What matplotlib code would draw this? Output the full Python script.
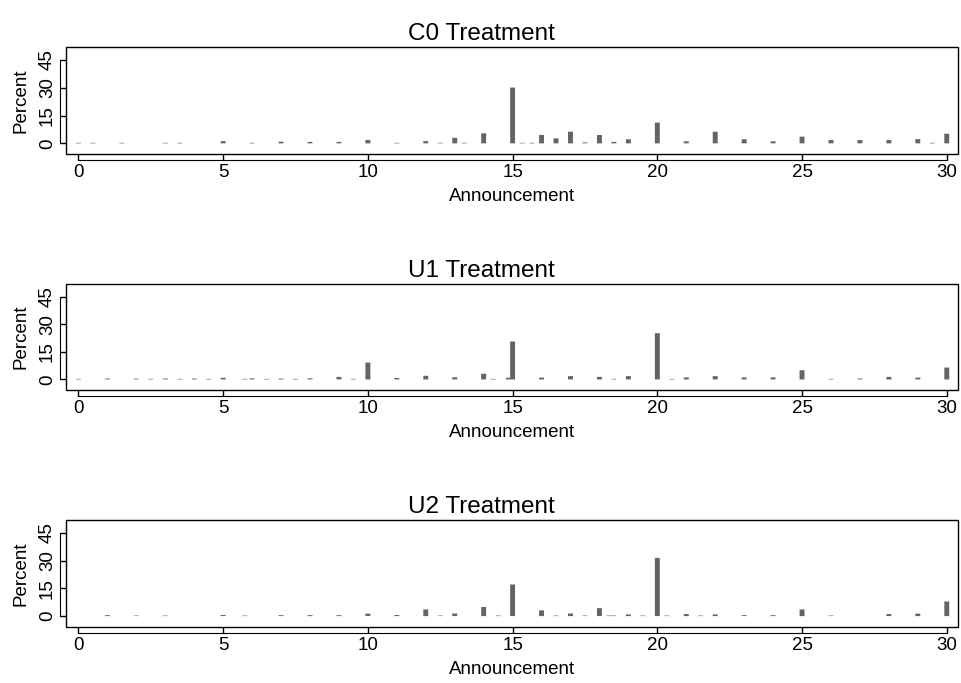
import matplotlib
matplotlib.use("Agg")
import matplotlib.pyplot as plt
from matplotlib.patches import Rectangle

plt.rcParams['font.family'] = ['Liberation Sans', 'DejaVu Sans']

# Announcement values and percent of choices
c0_x = [0, 0.5, 1.5, 3, 3.5, 5, 6, 7, 8, 9, 10, 11, 12, 12.5, 13, 13.33, 14,
        15, 15.33, 15.67, 16, 16.5, 17, 17.5, 18, 18.5, 19, 20, 21, 22, 23,
        24, 25, 26, 27, 28, 29, 29.5, 30]
c0_pct = [0.3, 0.3, 0.3, 0.3, 0.3, 1.2, 0.3, 0.9, 0.8, 0.8, 1.8, 0.3, 1.2,
          0.3, 3.0, 0.3, 5.4, 30.1, 0.3, 0.3, 4.5, 2.7, 6.3, 0.5, 4.5, 0.8,
          2.2, 11.2, 1.1, 6.3, 2.2, 1.1, 3.6, 1.8, 1.8, 1.8, 2.3, 0.3, 5.2]

u1_x = [0, 1, 2, 2.5, 3, 3.5, 4, 4.5, 5, 5.75, 6, 6.5, 7, 7.5, 8, 9, 9.5, 10,
        11, 12, 13, 14, 14.33, 14.85, 15, 16, 17, 18, 18.5, 19, 20, 20.5, 21,
        22, 23, 24, 25, 26, 27, 28, 29, 30]
u1_pct = [0.3, 0.5, 0.4, 0.3, 0.5, 0.3, 0.5, 0.3, 0.9, 0.3, 0.6, 0.3, 0.5,
          0.3, 0.6, 1.4, 0.3, 9.2, 0.8, 2.0, 1.2, 3.1, 0.3, 0.9, 20.7, 1.0,
          1.8, 1.4, 0.3, 1.8, 25.2, 0.3, 1.1, 1.8, 1.1, 1.1, 5.0, 0.3, 0.5,
          1.4, 1.0, 6.5]

u2_x = [1, 2, 3, 5, 5.75, 7, 8, 9, 10, 11, 12, 12.5, 13, 14, 14.5, 15, 16,
        16.5, 17, 17.5, 18, 18.33, 18.5, 19, 19.5, 20, 20.33, 21, 21.5, 22,
        23, 24, 25, 26, 28, 29, 30]
u2_pct = [0.5, 0.3, 0.3, 0.6, 0.3, 0.5, 0.5, 0.5, 1.3, 0.6, 3.6, 0.3, 1.4,
          4.9, 0.3, 17.1, 3.1, 0.3, 1.4, 0.3, 4.3, 0.3, 0.3, 0.9, 0.3, 31.5,
          0.3, 1.1, 0.3, 0.9, 0.5, 0.5, 3.6, 0.3, 1.1, 1.3, 7.9]

titles = ["C0 Treatment", "U1 Treatment", "U2 Treatment"]
x_ticks = [0, 5, 10, 15, 20, 25, 30]
y_ticks = [0, 15, 30, 45]

panels = [(c0_x, c0_pct), (u1_x, u1_pct), (u2_x, u2_pct)]

fig = plt.figure(figsize=(9.62, 6.83), dpi=100)

# Axes boxes in figure fractions: left, bottom, width, height
boxes = [[0.0686, 0.7741, 0.9276, 0.1571],
         [0.0686, 0.4286, 0.9276, 0.1555],
         [0.0686, 0.0820, 0.9276, 0.1567]]

# Stata style axis line sits a few pixels away from the plot frame
gap = 4.3

for box, (xs, ys), title in zip(boxes, panels, titles):
    ax = fig.add_axes(box)
    # snap off so the very small bars still show up as faint grey slivers
    bars = ax.bar(xs, ys, width=0.17, color='#646464', linewidth=0)
    for b in bars:
        b.set_snap(False)
    ax.set_xlim(-0.43, 30.4)
    ax.set_ylim(-5.9, 52)

    # frame around the plot region
    ax.add_patch(Rectangle((0, 0), 1, 1, transform=ax.transAxes, fill=False,
                           edgecolor='black', linewidth=1.0, clip_on=False))

    ax.spines['top'].set_visible(False)
    ax.spines['right'].set_visible(False)
    ax.spines['left'].set_position(('outward', gap))
    ax.spines['bottom'].set_position(('outward', gap))
    ax.spines['left'].set_bounds(0, 45)
    ax.spines['bottom'].set_bounds(0, 30)

    ax.set_xticks(x_ticks)
    ax.set_yticks(y_ticks)
    ax.tick_params(direction='in', length=gap, width=1.0, labelsize=13.5,
                   pad=3)
    for lab in ax.get_yticklabels():
        lab.set_rotation(90)
        lab.set_va('center')

    # title is centred on the whole figure width, not on the axes
    title_x = (0.5 - box[0]) / box[2]
    ax.set_title(title, fontsize=17.5, pad=5, x=title_x)
    ax.set_xlabel("Announcement", fontsize=13.5, labelpad=5)
    ax.set_ylabel("Percent", fontsize=13.5, labelpad=7)

fig.savefig("out.png", dpi=100)
